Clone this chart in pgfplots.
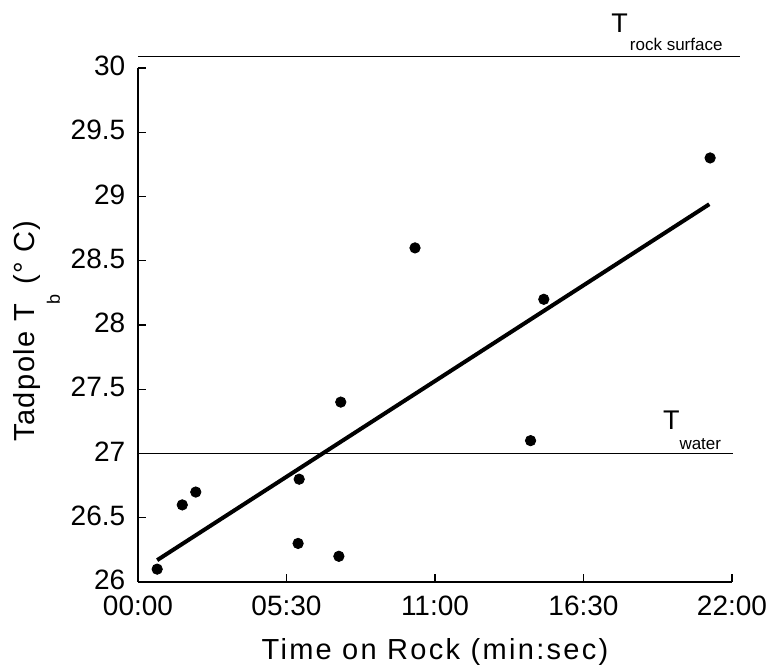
\documentclass[border=0pt]{standalone}
\usepackage{fontspec}
\setmainfont{Liberation Sans}
\usepackage{pgfplots}
\pgfplotsset{compat=1.18}

\pgfplotstableread{
t y
0.71 26.1
1.64 26.6
2.14 26.7
5.93 26.3
5.97 26.8
7.44 26.2
7.51 27.4
10.26 28.6
14.54 27.1
15.03 28.2
21.19 29.3
}\pointsdata

\begin{document}
\begin{tikzpicture}
\begin{axis}[
  scale only axis, width=297pt, height=257pt,
  xmin=0, xmax=22, ymin=26, ymax=30,
  axis x line*=bottom, axis y line*=left,
  axis line style={line width=0.8pt, -},
  tick align=inside, major tick length=4pt,
  tick style={line width=0.6pt, black},
  xtick={0,5.5,11,16.5,22},
  xticklabels={00:00,05:30,11:00,16:30,22:00},
  ytick={26,26.5,27,27.5,28,28.5,29,29.5,30},
  yticklabels={26,26.5,27,27.5,28,28.5,29,29.5,30},
  tick label style={font=\fontsize{14}{16}\selectfont, inner sep=0pt},
  yticklabel style={xshift=-6.2pt, yshift=1pt},
  xticklabel style={yshift=-7pt},
  clip=false,
  xlabel={Time on Rock (min:sec)},
  ylabel={Tadpole T\raisebox{-12.5pt}{\fontsize{9}{9}\selectfont b} (\textdegree\ C)},
  xlabel style={font=\fontsize{14.5}{16}\selectfont\addfontfeature{LetterSpace=8},
    at={(axis description cs:0.5,0)}, anchor=base, yshift=-39pt},
  ylabel style={font=\fontsize{14.5}{16}\selectfont\addfontfeature{LetterSpace=5},
    at={(axis description cs:0,0.5)}, anchor=base, yshift=51.5pt, xshift=-3pt},
]
\coordinate (SW) at (rel axis cs:0,0);
\coordinate (NE) at (rel axis cs:1,1);
% reference lines
\addplot[black, line width=0.6pt] coordinates {(0,30.088) (22.3,30.088)};
\addplot[black, line width=0.6pt] coordinates {(0,27.0) (22.04,27.0)};
% regression line
\addplot[black, line width=2pt] coordinates {(0.71,26.17) (21.16,28.94)};
% data points
\addplot[only marks, mark=*, mark size=2.6pt, black] table[x=t,y=y] {\pointsdata};
% labels
\node[anchor=base west, inner sep=0pt, font=\fontsize{13.5}{16}\selectfont] at (axis cs:17.52,30.28)
  {T\raisebox{-9.2pt}{\hspace{1pt}\fontsize{8.5}{9}\selectfont rock surface}};
\node[anchor=base west, inner sep=0pt, font=\fontsize{13.5}{16}\selectfont] at (axis cs:19.43,27.19)
  {T\raisebox{-10pt}{\fontsize{8.5}{9}\selectfont water}};
\end{axis}
\pgfresetboundingbox
\path ([shift={(-69pt,-45pt)}]SW) rectangle ([shift={(19.5pt,34pt)}]NE);
\end{tikzpicture}
\end{document}
